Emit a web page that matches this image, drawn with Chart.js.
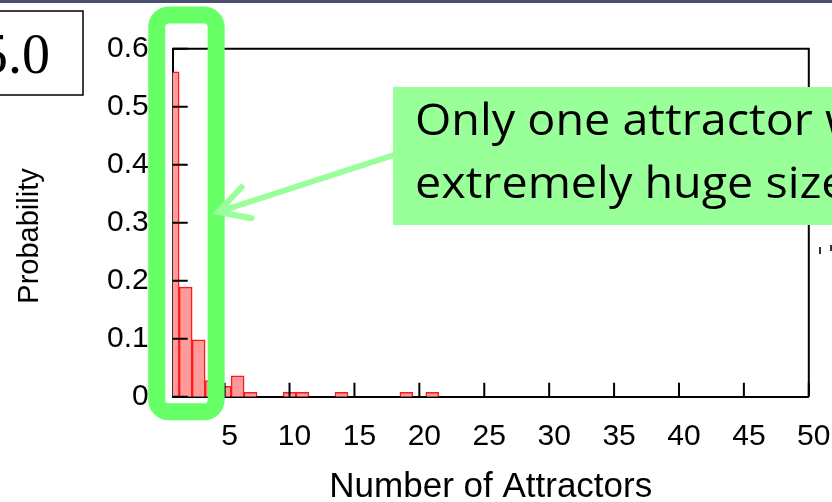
<!DOCTYPE html>
<html>
<head>
<meta charset="utf-8">
<script src="https://cdn.jsdelivr.net/npm/chart.js@4.4.1/dist/chart.umd.min.js"></script>
<style>
  html, body { margin: 0; padding: 0; background: #fff; }
  #wrap { width: 832px; height: 502px; position: relative; overflow: hidden; }
</style>
</head>
<body>
<div id="wrap"><canvas id="histChart" width="832" height="502"></canvas></div>
<script>
// histogram values
const attractorCounts = [1, 2, 3, 4, 5, 6, 7, 10, 11, 14, 19, 21];
const probabilities = [0.56, 0.189, 0.098, 0.028, 0.018, 0.036, 0.0075, 0.0075, 0.0075, 0.0075, 0.0075, 0.0075];
const xTickValues = [5, 10, 15, 20, 25, 30, 35, 40, 45, 50];
const yTickValues = [0, 0.1, 0.2, 0.3, 0.4, 0.5, 0.6];
const calloutLines = ['Only one attractor with', 'extremely huge size'];
const panelLabel = '5.0';
const yTitle = 'Probability';

const sansFamily = '"Liberation Sans", Arial, sans-serif';
const axisFont = { family: sansFamily, size: 30 };

// slide decorations drawn over the plot
const decor = {
  id: 'decor',
  afterDraw(chart) {
    const { ctx, chartArea: a, scales: { x, y } } = chart;
    ctx.save();

    // top + right frame lines
    ctx.strokeStyle = '#000';
    ctx.lineWidth = 2;
    ctx.beginPath();
    ctx.moveTo(a.left, a.top);
    ctx.lineTo(a.right, a.top);
    ctx.lineTo(a.right, a.bottom);
    ctx.stroke();

    // inward tick marks
    ctx.beginPath();
    yTickValues.forEach(v => {
      const py = y.getPixelForValue(v);
      ctx.moveTo(a.left, py);
      ctx.lineTo(a.left + 15, py);
    });
    xTickValues.forEach(v => {
      const px = x.getPixelForValue(v);
      ctx.moveTo(px, a.bottom);
      ctx.lineTo(px, a.bottom - 14);
    });
    ctx.stroke();

    // y axis title, rotated
    ctx.save();
    ctx.translate(30, 236);
    ctx.rotate(-Math.PI / 2);
    ctx.fillStyle = '#000';
    ctx.font = '29px ' + sansFamily;
    ctx.textAlign = 'center';
    ctx.textBaseline = 'middle';
    ctx.fillText(yTitle, 0, 0);
    ctx.restore();

    // slide header strip
    ctx.fillStyle = '#4a4f70';
    ctx.fillRect(0, 0, 832, 3);

    // panel label box
    ctx.fillStyle = '#fff';
    ctx.fillRect(-10, 11, 93, 84);
    ctx.lineWidth = 1.5;
    ctx.strokeRect(-10, 11, 93, 84);
    ctx.fillStyle = '#000';
    ctx.font = '56px "Liberation Serif", "Times New Roman", serif';
    ctx.textAlign = 'right';
    ctx.textBaseline = 'alphabetic';
    ctx.fillText(panelLabel, 50, 73);

    // green highlight frame around the first bins
    const fl = x.getPixelForValue(1) - 16;
    const fr = x.getPixelForValue(3.5) + 11;
    const fb = y.getPixelForValue(0) + 15;
    ctx.strokeStyle = '#66ff66';
    ctx.lineWidth = 17;
    ctx.beginPath();
    ctx.roundRect(fl, 15, fr - fl, fb - 15, 12);
    ctx.stroke();

    // arrow from callout to frame
    const tipX = fr + 2, tipY = 212, tailX = 394, tailY = 155;
    const ang = Math.atan2(tailY - tipY, tailX - tipX);
    ctx.strokeStyle = '#99ff99';
    ctx.lineWidth = 6;
    ctx.lineCap = 'round';
    ctx.beginPath();
    ctx.moveTo(tailX, tailY);
    ctx.lineTo(tipX, tipY);
    ctx.moveTo(tipX + 34 * Math.cos(ang - 0.5), tipY + 34 * Math.sin(ang - 0.5));
    ctx.lineTo(tipX, tipY);
    ctx.lineTo(tipX + 34 * Math.cos(ang + 0.5), tipY + 34 * Math.sin(ang + 0.5));
    ctx.stroke();

    // callout box
    ctx.fillStyle = '#99ff99';
    ctx.fillRect(393, 87, 450, 138);
    ctx.fillStyle = '#000';
    ctx.font = '43px "Open Sans", sans-serif';
    ctx.textAlign = 'left';
    const sx = 410 / ctx.measureText('Only one attractor ').width;
    [[calloutLines[0], 135], [calloutLines[1], 198]].forEach(([t, by]) => {
      ctx.save();
      ctx.translate(415, by);
      ctx.scale(sx, 1);
      ctx.fillText(t, 0, 0);
      ctx.restore();
    });

    // stray marks right of the plot
    ctx.fillStyle = '#333';
    ctx.fillRect(819, 247, 2, 7);
    ctx.fillRect(830, 245, 2, 6);

    ctx.restore();
  }
};

const canvas = document.getElementById('histChart');
new Chart(canvas, {
  type: 'bar',
  data: {
    datasets: [{
      data: attractorCounts.map((n, i) => ({ x: n, y: probabilities[i] })),
      backgroundColor: '#ff9a9a',
      borderColor: '#ff1a1a',
      borderWidth: 1.5,
      barPercentage: 1,
      categoryPercentage: 1,
      clip: 0
    }]
  },
  options: {
    responsive: false,
    animation: false,
    devicePixelRatio: 1,
    layout: { padding: { top: 48.7, right: 23.2, left: 0, bottom: 0 } },
    plugins: { legend: { display: false }, tooltip: { enabled: false } },
    scales: {
      x: {
        type: 'linear',
        offset: false,
        min: 1,
        max: 50,
        afterBuildTicks: s => { s.ticks = xTickValues.map(v => ({ value: v })); },
        afterFit: s => { s.height = 105.3; s.paddingLeft = 0; s.paddingRight = 0; },
        grid: { display: false, drawTicks: false, offset: false },
        border: { color: '#000', width: 2 },
        ticks: { color: '#000', font: axisFont, padding: 22, labelOffset: 5, maxRotation: 0, autoSkip: false },
        title: {
          display: true, text: 'Number of Attractors', color: '#000',
          font: { family: sansFamily, size: 35 },
          padding: { top: 0, bottom: -6 }
        }
      },
      y: {
        min: 0,
        max: 0.6,
        afterBuildTicks: s => { s.ticks = yTickValues.map(v => ({ value: v })); },
        afterFit: s => { s.width = 172.7; s.paddingTop = 0; s.paddingBottom = 0; },
        grid: { display: false, drawTicks: false },
        border: { color: '#000', width: 2 },
        ticks: { color: '#000', font: axisFont, padding: 24, callback: v => String(v) }
      }
    }
  },
  plugins: [decor]
});
</script>
</body>
</html>
